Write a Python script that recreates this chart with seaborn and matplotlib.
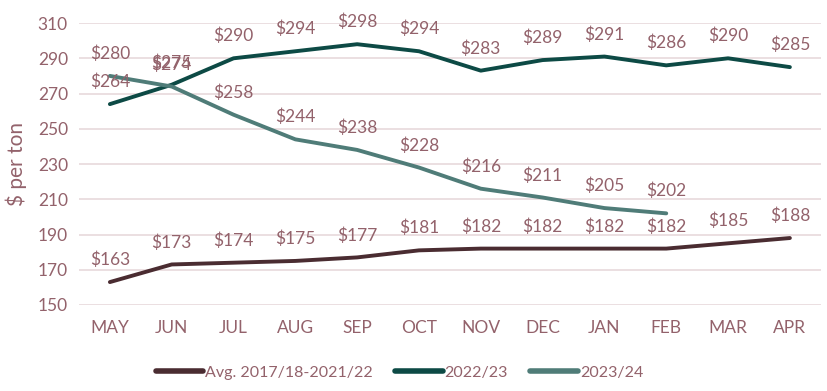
import numpy as np
import seaborn as sns
import matplotlib.pyplot as plt
import pandas as pd

months = ['MAY', 'JUN', 'JUL', 'AUG', 'SEP', 'OCT', 'NOV', 'DEC', 'JAN', 'FEB', 'MAR', 'APR']
avg_1718_2122 = [163, 173, 174, 175, 177, 181, 182, 182, 182, 182, 185, 188]
y2022_23 = [264, 275, 290, 294, 298, 294, 283, 289, 291, 286, 290, 285]
y2023_24 = [280, 274, 258, 244, 238, 228, 216, 211, 205, 202]

series_names = ['Avg. 2017/18-2021/22', '2022/23', '2023/24']
colors = ['#4a2c31', '#0d4a45', '#4f7c78']
text_color = '#93626b'

rows = []
for name, vals in zip(series_names, [avg_1718_2122, y2022_23, y2023_24]):
    for i, v in enumerate(vals):
        rows.append({'month': i, 'price': v, 'series': name})
df = pd.DataFrame(rows)

sns.set_style('white')
plt.rcParams['font.family'] = ['Lato', 'DejaVu Sans']

fig = plt.figure(figsize=(8.27, 3.91), dpi=100)
ax = fig.add_axes([0.0955, 0.22, 0.897, 0.721])

sns.lineplot(data=df, x='month', y='price', hue='series', palette=colors,
             hue_order=series_names, linewidth=2.8, ax=ax, legend=True,
             solid_capstyle='round')

# etiquetas de valor sobre cada ponto
for name, vals in zip(series_names, [avg_1718_2122, y2022_23, y2023_24]):
    for i, v in enumerate(vals):
        ax.annotate(f'${v}', (i, v), xytext=(0, 10), textcoords='offset points',
                    ha='center', va='bottom', fontsize=12.5, color=text_color)

ax.set_xlim(-0.5, 11.5)
ax.set_ylim(150, 310)
ax.set_yticks(range(150, 311, 20))
ax.set_xticks(range(12))
ax.set_xticklabels(months)
ax.tick_params(axis='both', colors=text_color, labelsize=12.5, length=0)
ax.tick_params(axis='x', pad=11)
ax.tick_params(axis='y', pad=8)
ax.grid(axis='y', color='#e8d9dc', linewidth=1.2)
ax.set_axisbelow(True)
for s in ax.spines.values():
    s.set_visible(False)
ax.set_xlabel('')
ax.set_ylabel('$ per ton', color=text_color, fontsize=15, labelpad=8)

leg = ax.legend(loc='upper center', bbox_to_anchor=(0.432, -0.165), ncol=3, frameon=False,
                fontsize=11.5, handlelength=3.0, handletextpad=0.1, columnspacing=1.4)
for t in leg.get_texts():
    t.set_color(text_color)
for h in leg.get_lines():
    h.set_linewidth(4)
    h.set_solid_capstyle('round')

plt.savefig('out.png', dpi=100)
plt.close()
